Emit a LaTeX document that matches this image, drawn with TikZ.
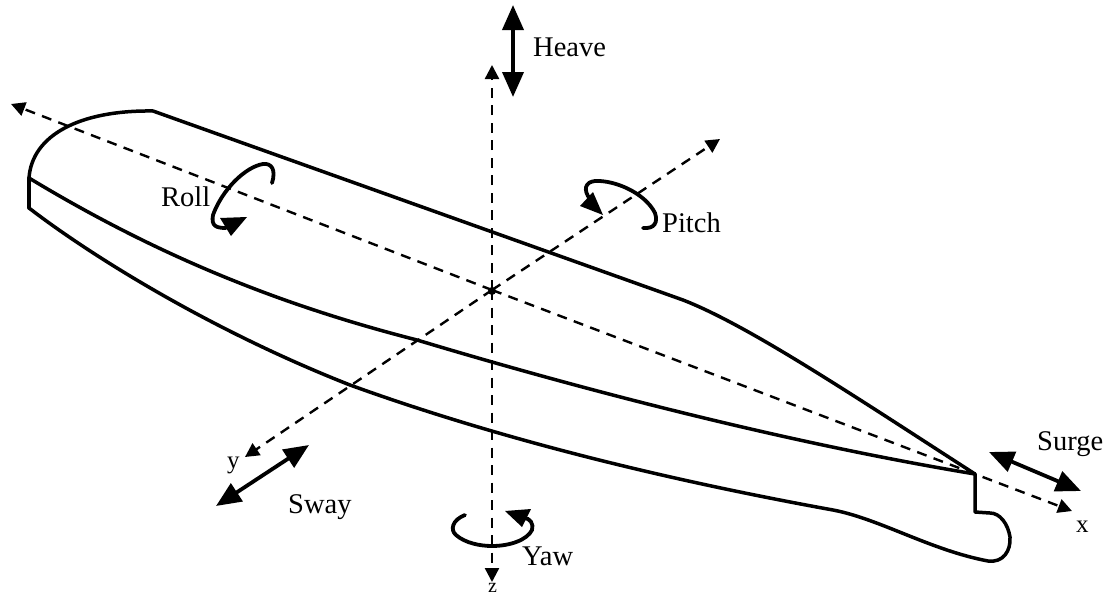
\documentclass[tikz,border=0pt]{standalone}
\usepackage{fontspec}
\setmainfont{Liberation Serif}
\usetikzlibrary{arrows.meta}
\tikzset{
  hull/.style={line width=3.5pt,line join=round,line cap=round},
  axis/.style={line width=2.4pt,dash pattern=on 10pt off 7.5pt,-{Triangle[width=14pt,length=14pt]}},
  motion/.style={line width=3.8pt,{Triangle[width=21pt,length=25pt]}-{Triangle[width=21pt,length=25pt]}},
  turn/.style={line width=3.8pt,line cap=round},
  tiphead/.style={fill=black},
  lbl/.style={anchor=base west,inner sep=0pt,font=\fontsize{28.5}{28.5}\selectfont},
  small/.style={anchor=base west,inner sep=0pt,font=\fontsize{25}{25}\selectfont}
}
\begin{document}
\begin{tikzpicture}[x=1pt,y=-1pt]
\useasboundingbox (0,0) rectangle (1109,597);
% axes
\coordinate (xa) at (11,104); \coordinate (xb) at (1072,511);
\coordinate (ya) at (720,139); \coordinate (yb) at (245,457);
\coordinate (za) at (492,582); \coordinate (zb) at (492,65);
\coordinate (o) at (492,290);
\draw[axis] (o) -- (xa);
\draw[axis] (o) -- (xb);
\draw[axis] (o) -- (ya);
\draw[axis] (o) -- (yb);
\draw[axis] (o) -- (za);
\draw[axis] (o) -- (zb);
\fill (492,291) circle (4pt);
% hull
\coordinate (h1) at (29,178); \coordinate (h2) at (153,111); \coordinate (h3) at (975,474);
\coordinate (h4) at (29,208); \coordinate (h5) at (975,512);
\draw[hull] (h1) .. controls (32,135) and (80,110) .. (h2)
  -- (683,300) .. controls (750,326) and (860,400) .. (h3);
\draw[hull] (h1) .. controls (140,245) and (260,300) .. (417,340)
  .. controls (600,395) and (800,445) .. (h3);
\draw[hull] (h1) -- (h4);
\draw[hull] (h4) .. controls (90,255) and (210,330) .. (350,385)
  .. controls (480,432) and (640,475) .. (833,510)
  .. controls (880,519) and (930,550) .. (988,561)
  .. controls (1003,563) and (1011,551) .. (1010,537)
  .. controls (1008,524) and (1000,513) .. (990,513) -- (h5) -- (h3);
% linear motions
\coordinate (ha) at (513,5); \coordinate (hb) at (513,97);
\coordinate (sa) at (989,452); \coordinate (sb) at (1081,491);
\coordinate (wa) at (309,445); \coordinate (wb) at (216,506);
\draw[motion] (ha) -- (hb);
\draw[motion] (sa) -- (sb);
\draw[motion] (wa) -- (wb);
% rotations
\draw[turn] (272,183) .. controls (276,170) and (272,163) .. (263,164)
  .. controls (245,167) and (222,190) .. (213,215)
  .. controls (211,226) and (216,228) .. (226,228);
\fill[tiphead] (220,218) -- (247,217) -- (231,236) -- cycle;
\draw[turn] (643,228) .. controls (655,229) and (658,222) .. (655,213)
  .. controls (645,193) and (615,180) .. (595,181)
  .. controls (585,182) and (583,190) .. (590,199);
\fill[tiphead] (593,192) -- (580,206) -- (603,215) -- cycle;
\draw[turn] (465,515) .. controls (452,520) and (450,530) .. (456,535)
  .. controls (465,543) and (480,546) .. (492,546)
  .. controls (510,546) and (527,540) .. (532,530)
  .. controls (534,524) and (530,518) .. (524,518);
\fill[tiphead] (505,511) -- (531,509) -- (522,527) -- cycle;
% labels
\node[lbl] (heave) at (533,56) {Heave};
\node[lbl] (pitch) at (662,232) {Pitch};
\node[lbl] (roll) at (161,206) {Roll};
\node[lbl] (surge) at (1037,450) {Surge};
\node[lbl] (sway) at (288,513) {Sway};
\node[lbl] (yaw) at (522,565) {Yaw};
\node[small] (lx) at (1076,532) {x};
\node[small] (ly) at (227,468) {y};
\node[small,font=\fontsize{20}{20}\selectfont] (lz) at (488,592) {z};
\end{tikzpicture}
\end{document}
